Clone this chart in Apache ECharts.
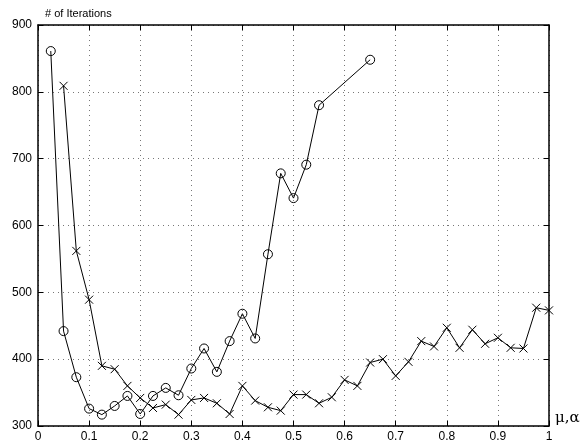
<!DOCTYPE html>
<html>
<head>
<meta charset="utf-8">
<script src="https://cdn.jsdelivr.net/npm/echarts@6/dist/echarts.min.js"></script>
<style>html,body{margin:0;padding:0;background:#fff}#c{width:582px;height:443px}</style>
</head>
<body>
<div id="c"></div>
<script>
var muX = [0.025,0.05,0.075,0.1,0.125,0.15,0.175,0.2,0.225,0.25,0.275,0.3,0.325,0.35,0.375,0.4,0.425,0.45,0.475,0.5,0.525,0.55,0.65];
var muY = [861,442,373,326,317,330,345,318,345,357,346,386,416,381,427,468,431,557,678,641,691,780,848];
var alphaX = [0.05,0.075,0.1,0.125,0.15,0.175,0.2,0.225,0.25,0.275,0.3,0.325,0.35,0.375,0.4,0.425,0.45,0.475,0.5,0.525,0.55,0.575,0.6,0.625,0.65,0.675,0.7,0.725,0.75,0.775,0.8,0.825,0.85,0.875,0.9,0.925,0.95,0.975,1.0];
var alphaY = [809,562,489,390,385,360,342,327,332,317,339,342,334,318,360,338,328,323,347,347,334,343,369,360,395,400,375,396,427,419,447,417,444,423,432,417,416,477,473];
var xTicks = [0,0.1,0.2,0.3,0.4,0.5,0.6,0.7,0.8,0.9,1];
var yTicks = [300,400,500,600,700,800,900];

function pairs(xs, ys){ return xs.map(function(x,i){return [x, ys[i]];}); }

var chart = echarts.init(document.getElementById('c'));
var font = 'Liberation Sans, Arial, Helvetica, sans-serif';
var gridLine = {show:true, lineStyle:{color:'#777', type:[1,4], width:1}};
var xTickFmt = function(v){ var r = Math.round(v*10)/10; return xTicks.indexOf(r) >= 0 ? String(r) : ''; };
chart.setOption({
  animation:false,
  grid:{left:38, right:33, top:25, bottom:15, containLabel:false},
  xAxis:[{
    type:'value', min:0, max:1, interval:0.1, position:'bottom',
    axisLine:{show:true, onZero:false, lineStyle:{color:'#000', width:1.5}},
    axisTick:{show:true, inside:true, length:5, lineStyle:{color:'#000'}},
    axisLabel:{color:'#000', fontFamily:font, fontSize:12, margin:5, formatter:xTickFmt},
    splitLine:gridLine
  },{
    type:'value', min:0, max:1, interval:0.1, position:'top',
    axisLine:{show:true, onZero:false, lineStyle:{color:'#000', width:1.5}},
    axisTick:{show:true, inside:true, length:5, lineStyle:{color:'#000'}},
    axisLabel:{show:false}, splitLine:{show:false}
  }],
  yAxis:[{
    type:'value', min:300, max:900, interval:100, position:'left',
    axisLine:{show:true, onZero:false, lineStyle:{color:'#000', width:1.5}},
    axisTick:{show:true, inside:true, length:5, lineStyle:{color:'#000'}},
    axisLabel:{color:'#000', fontFamily:font, fontSize:12, margin:6},
    splitLine:gridLine
  },{
    type:'value', min:300, max:900, interval:100, position:'right',
    axisLine:{show:true, onZero:false, lineStyle:{color:'#000', width:1.5}},
    axisTick:{show:true, inside:true, length:5, lineStyle:{color:'#000'}},
    axisLabel:{show:false}, splitLine:{show:false}
  }],
  series:[{
    type:'line', name:'mu', data:pairs(muX, muY),
    symbol:'circle', symbolSize:9, showAllSymbol:true,
    lineStyle:{color:'#000', width:1},
    itemStyle:{color:'rgba(255,255,255,0)', borderColor:'#000', borderWidth:1},
    markPoint:{symbol:'none', silent:true, data:[{coord:[0.4556,459], label:{show:true, formatter:'\u03bc', fontFamily:'DejaVu Serif, serif', fontSize:15, color:'#000'}}]}
  },{
    type:'line', name:'alpha', data:pairs(alphaX, alphaY),
    symbol:'path://M0,0L10,10M10,0L0,10', symbolSize:8, showAllSymbol:true,
    lineStyle:{color:'#000', width:1},
    itemStyle:{color:'#000', borderColor:'#000', borderWidth:1},
    markPoint:{symbol:'none', silent:true, data:[{coord:[0.739,461], label:{show:true, formatter:'\u03b1', fontFamily:'DejaVu Serif, serif', fontSize:16, color:'#000'}}]}
  }],
  graphic:[
    {type:'text', left:45, top:8, style:{text:'# of Iterations', font:'11px '+font, fill:'#000'}},
    {type:'text', left:555, top:411, style:{text:'\u03bc,\u03b1', font:'15px DejaVu Serif, serif', fill:'#000'}}
  ]
});
</script>
</body>
</html>
